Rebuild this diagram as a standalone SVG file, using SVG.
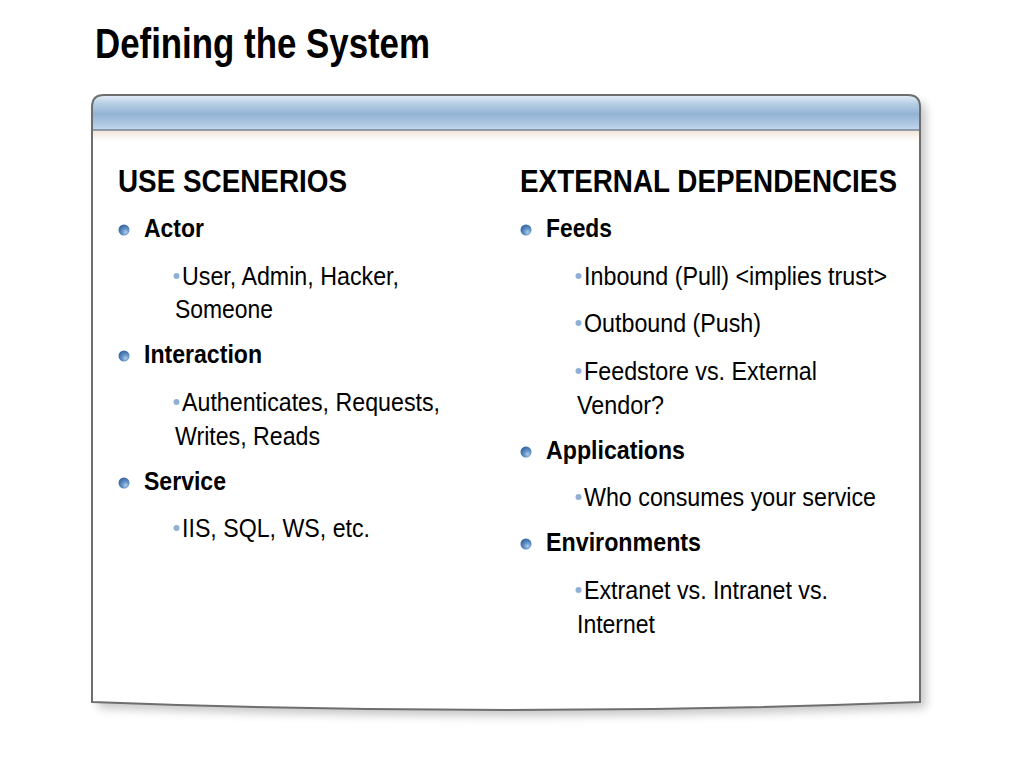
<svg xmlns="http://www.w3.org/2000/svg" width="1024" height="768" viewBox="0 0 1024 768">
<defs>
<linearGradient id="hdr" x1="0" y1="0" x2="0" y2="1">
<stop offset="0" stop-color="#e4edf6"/>
<stop offset="0.25" stop-color="#b6cee5"/>
<stop offset="0.55" stop-color="#92b3d4"/>
<stop offset="0.85" stop-color="#b0cae4"/>
<stop offset="1" stop-color="#c9dbee"/>
</linearGradient>
<linearGradient id="peach" x1="0" y1="0" x2="0" y2="1">
<stop offset="0" stop-color="#f3e6da"/>
<stop offset="1" stop-color="#ffffff"/>
</linearGradient>
<radialGradient id="ball" cx="0.65" cy="0.7" r="0.7">
<stop offset="0" stop-color="#b3cdea"/>
<stop offset="0.45" stop-color="#6394c8"/>
<stop offset="1" stop-color="#36669f"/>
</radialGradient>
<filter id="sh" x="-5%" y="-5%" width="110%" height="115%">
<feGaussianBlur stdDeviation="5"/>
</filter>
<clipPath id="panelclip">
<path d="M92,107 Q92,95 104,95 H908 Q920,95 920,107 V702 Q506,718 92,702 Z"/>
</clipPath>
</defs>
<style>
.t{font-family:"Liberation Sans Narrow","Liberation Sans",Arial,sans-serif;fill:#000}
.title{font-size:42px;font-weight:bold}
.h{font-size:32px;font-weight:bold}
.l1{font-size:25px;font-weight:bold}
.l2{font-size:25px}
.dot{fill:#8fb0d4}
</style>
<rect width="1024" height="768" fill="#ffffff"/>
<g id="title">
<text class="t title" x="95" y="58" textLength="335" lengthAdjust="spacingAndGlyphs">Defining the System</text>
</g>
<g id="panel">
<path d="M98,113 Q98,101 110,101 H914 Q926,101 926,113 V708 Q510,724 98,708 Z" fill="#000" opacity="0.22" filter="url(#sh)"/>
<path d="M92,107 Q92,95 104,95 H908 Q920,95 920,107 V702 Q506,718 92,702 Z" fill="#ffffff"/>
<g clip-path="url(#panelclip)">
<rect x="92" y="95" width="828" height="35" fill="url(#hdr)"/>
<rect x="92" y="131" width="828" height="10" fill="url(#peach)"/>
<line x1="92" y1="130" x2="920" y2="130" stroke="#6f7f92" stroke-width="1.5"/>
</g>
<path d="M92,107 Q92,95 104,95 H908 Q920,95 920,107 V702 Q506,718 92,702 Z" fill="none" stroke="#6e6e6e" stroke-width="2"/>
</g>
<g id="left-column">
<text class="t h" x="118" y="191.5" textLength="229" lengthAdjust="spacingAndGlyphs">USE SCENERIOS</text>
<circle cx="124" cy="230" r="5.5" fill="url(#ball)"/>
<text class="t l1" x="144" y="237" textLength="60" lengthAdjust="spacingAndGlyphs">Actor</text>
<circle class="dot" cx="176.5" cy="276" r="3"/>
<text class="t l2" x="182" y="285" textLength="217" lengthAdjust="spacingAndGlyphs">User, Admin, Hacker,</text>
<text class="t l2" x="175" y="318" textLength="98" lengthAdjust="spacingAndGlyphs">Someone</text>
<circle cx="124" cy="356" r="5.5" fill="url(#ball)"/>
<text class="t l1" x="144" y="363" textLength="118" lengthAdjust="spacingAndGlyphs">Interaction</text>
<circle class="dot" cx="176.5" cy="402" r="3"/>
<text class="t l2" x="182" y="411" textLength="258" lengthAdjust="spacingAndGlyphs">Authenticates, Requests,</text>
<text class="t l2" x="175" y="445" textLength="145" lengthAdjust="spacingAndGlyphs">Writes, Reads</text>
<circle cx="124" cy="483" r="5.5" fill="url(#ball)"/>
<text class="t l1" x="144" y="490" textLength="82" lengthAdjust="spacingAndGlyphs">Service</text>
<circle class="dot" cx="176.5" cy="528" r="3"/>
<text class="t l2" x="182" y="537" textLength="188" lengthAdjust="spacingAndGlyphs">IIS, SQL, WS, etc.</text>
</g>
<g id="right-column">
<text class="t h" x="520" y="191.5" textLength="377" lengthAdjust="spacingAndGlyphs">EXTERNAL DEPENDENCIES</text>
<circle cx="526" cy="230" r="5.5" fill="url(#ball)"/>
<text class="t l1" x="546" y="237" textLength="66" lengthAdjust="spacingAndGlyphs">Feeds</text>
<circle class="dot" cx="578.5" cy="276" r="3"/>
<text class="t l2" x="584" y="285" textLength="303" lengthAdjust="spacingAndGlyphs">Inbound (Pull) &lt;implies trust&gt;</text>
<circle class="dot" cx="578.5" cy="323" r="3"/>
<text class="t l2" x="584" y="332" textLength="177" lengthAdjust="spacingAndGlyphs">Outbound (Push)</text>
<circle class="dot" cx="578.5" cy="371" r="3"/>
<text class="t l2" x="584" y="380" textLength="233" lengthAdjust="spacingAndGlyphs">Feedstore vs. External</text>
<text class="t l2" x="577" y="414" textLength="87" lengthAdjust="spacingAndGlyphs">Vendor?</text>
<circle cx="526" cy="452" r="5.5" fill="url(#ball)"/>
<text class="t l1" x="546" y="459" textLength="139" lengthAdjust="spacingAndGlyphs">Applications</text>
<circle class="dot" cx="578.5" cy="497" r="3"/>
<text class="t l2" x="584" y="506" textLength="292" lengthAdjust="spacingAndGlyphs">Who consumes your service</text>
<circle cx="526" cy="544" r="5.5" fill="url(#ball)"/>
<text class="t l1" x="546" y="551" textLength="155" lengthAdjust="spacingAndGlyphs">Environments</text>
<circle class="dot" cx="578.5" cy="590" r="3"/>
<text class="t l2" x="584" y="599" textLength="244" lengthAdjust="spacingAndGlyphs">Extranet vs. Intranet vs.</text>
<text class="t l2" x="577" y="633" textLength="78" lengthAdjust="spacingAndGlyphs">Internet</text>
</g>
</svg>
